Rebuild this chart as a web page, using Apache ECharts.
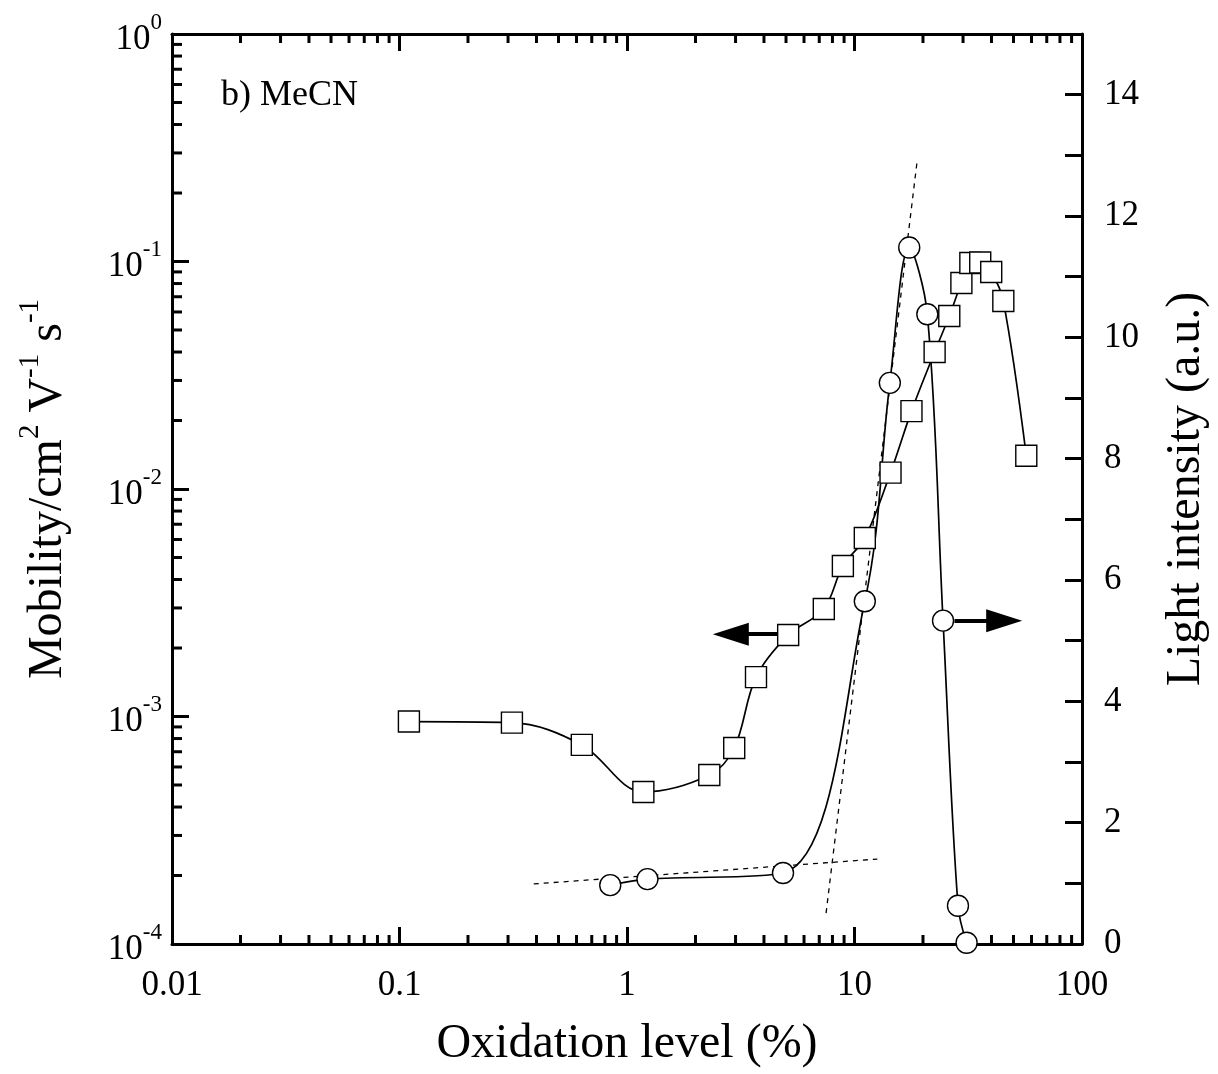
<!DOCTYPE html>
<html><head><meta charset="utf-8">
<script src="https://cdn.jsdelivr.net/npm/echarts@6/dist/echarts.min.js"></script>
<style>html,body{margin:0;padding:0;background:#fff}#c{width:1218px;height:1074px}</style>
</head><body><div id="c"></div>
<script>
// ---- data ----
const xMob = [0.110, 0.312, 0.633, 1.18, 2.30, 2.96, 3.69, 5.11, 7.33, 8.89, 11.1, 14.4, 17.8, 22.5, 26.1, 29.5, 32.3, 35.7, 39.9, 45.1, 56.9];
const yMob = [9.5e-4, 9.4e-4, 7.5e-4, 4.66e-4, 5.53e-4, 7.27e-4, 1.49e-3, 2.28e-3, 2.97e-3, 4.59e-3, 6.09e-3, 1.18e-2, 2.2e-2, 4.0e-2, 5.76e-2, 8.04e-2, 9.85e-2, 9.9e-2, 8.99e-2, 6.7e-2, 1.40e-2];
const xLight = [0.844, 1.23, 4.85, 11.1, 14.3, 17.4, 20.9, 24.5, 28.5, 31.1];
const yLight = [0.97, 1.07, 1.17, 5.65, 9.25, 11.48, 10.38, 5.33, 0.63, 0.02];
const fitLowX = [0.389, 12.6];
const fitLowY = [0.99, 1.40];
const fitSteepX = [7.50, 18.8];
const fitSteepY = [0.51, 12.87];
const arrowLeftX = [4.61, 2.86];
const arrowLeftY = 2.3e-3;
const arrowRightX = [27.5, 45.5];
const arrowRightY = 5.33;
const xTickLabels = ['0.01', '0.1', '1', '10', '100'];
const yTickExps = ['-4', '-3', '-2', '-1', '0'];
const xDecades = [0.01, 0.1, 1, 10];
const yDecades = [1e-4, 1e-3, 1e-2, 1e-1];
const minorMult = [2, 3, 4, 5, 6, 7, 8, 9];

const FONT = '"Liberation Serif","Times New Roman",serif';
const BLACK = '#000';

const minorX = [];
xDecades.forEach(d => minorMult.forEach(m => minorX.push(d * m)));
const minorY = [];
yDecades.forEach(d => minorMult.forEach(m => minorY.push(d * m)));
const tickData = minorX.map(v => [v, 1e-4, 0]).concat(minorY.map(v => [0.01, v, 1]));

const zip = (a, b) => a.map((v, i) => [v, b[i]]);

const axisLineStyle = { show: true, lineStyle: { color: BLACK, width: 3 } };
const majorTick = { show: true, inside: true, length: 17, lineStyle: { color: BLACK, width: 3 } };

const chart = echarts.init(document.getElementById('c'), null, { renderer: 'canvas' });
const option = {
  animation: false,
  backgroundColor: '#fff',
  title: {
    text: 'b) MeCN', left: 221, top: 78, padding: 0,
    textStyle: { fontFamily: FONT, fontSize: 36, fontWeight: 'normal', color: BLACK }
  },
  grid: { left: 172, right: 133, top: 34, bottom: 130, containLabel: false },
  xAxis: [
    {
      type: 'log', logBase: 10, min: 0.01, max: 100, position: 'bottom', splitNumber: 4,
      axisLine: axisLineStyle, axisTick: majorTick, splitLine: { show: false },
      axisLabel: {
        margin: 24, fontSize: 35, fontFamily: FONT, color: BLACK,
        formatter: v => xTickLabels[Math.round(Math.log10(v)) + 2]
      },
      name: 'Oxidation level (%)', nameLocation: 'middle', nameGap: 76,
      nameTextStyle: { fontSize: 48, fontFamily: FONT, color: BLACK }
    },
    {
      type: 'log', logBase: 10, min: 0.01, max: 100, position: 'top', splitNumber: 4,
      axisLine: axisLineStyle, axisTick: majorTick, splitLine: { show: false },
      axisLabel: { show: false }
    }
  ],
  yAxis: [
    {
      type: 'log', logBase: 10, min: 1e-4, max: 1, position: 'left', splitNumber: 4,
      axisLine: axisLineStyle, axisTick: majorTick, splitLine: { show: false },
      axisLabel: {
        margin: 10, color: BLACK,
        formatter: v => '{b|10}{s|' + yTickExps[Math.round(Math.log10(v)) + 4] + '}',
        rich: {
          b: { fontSize: 35, fontFamily: FONT, color: BLACK, lineHeight: 46, verticalAlign: 'bottom' },
          s: { fontSize: 23, fontFamily: FONT, color: BLACK, lineHeight: 22, verticalAlign: 'top' }
        }
      },
      name: '{t|Mobility/cm}{s|2}{t| V}{s|-1}{t| s}{s|-1}',
      nameLocation: 'middle', nameRotate: 90, nameGap: 100,
      nameTextStyle: {
        padding: [0, 0, 0, 0],
        rich: {
          t: { fontSize: 48, fontFamily: FONT, color: BLACK, lineHeight: 56, verticalAlign: 'bottom' },
          s: { fontSize: 29, fontFamily: FONT, color: BLACK, lineHeight: 28, verticalAlign: 'top' }
        }
      }
    },
    {
      type: 'value', min: 0, max: 15, interval: 1, position: 'right',
      axisLine: axisLineStyle, axisTick: majorTick, splitLine: { show: false },
      axisLabel: {
        margin: 22, fontSize: 35, fontFamily: FONT, color: BLACK,
        formatter: v => (v % 2 === 0 && v <= 14) ? String(v) : ''
      },
      name: 'Light intensity (a.u.)', nameLocation: 'middle', nameRotate: 90, nameGap: 80,
      nameTextStyle: { fontSize: 48, fontFamily: FONT, color: BLACK }
    }
  ],
  series: [
    {
      type: 'custom', name: 'minorTicks', xAxisIndex: 0, yAxisIndex: 0, silent: true, clip: false,
      data: tickData,
      renderItem: (params, api) => {
        const kind = api.value(2);
        if (kind === 0) {
          const pB = api.coord([api.value(0), 1e-4]);
          const pT = api.coord([api.value(0), 1]);
          return {
            type: 'group', children: [
              { type: 'line', shape: { x1: pB[0], y1: pB[1], x2: pB[0], y2: pB[1] - 9 }, style: { stroke: BLACK, lineWidth: 3 } },
              { type: 'line', shape: { x1: pT[0], y1: pT[1], x2: pT[0], y2: pT[1] + 9 }, style: { stroke: BLACK, lineWidth: 3 } }
            ]
          };
        }
        const p = api.coord([0.01, api.value(1)]);
        return { type: 'line', shape: { x1: p[0], y1: p[1], x2: p[0] + 10, y2: p[1] }, style: { stroke: BLACK, lineWidth: 3 } };
      }
    },
    {
      type: 'line', name: 'fitLow', xAxisIndex: 0, yAxisIndex: 1, showSymbol: false, symbol: 'none',
      data: zip(fitLowX, fitLowY), lineStyle: { color: BLACK, width: 1.3, type: [5, 5] }, silent: true
    },
    {
      type: 'line', name: 'fitSteep', xAxisIndex: 0, yAxisIndex: 1, showSymbol: false, symbol: 'none',
      data: zip(fitSteepX, fitSteepY), lineStyle: { color: BLACK, width: 1.3, type: [5, 5] }, silent: true
    },
    {
      type: 'line', name: 'Mobility', xAxisIndex: 0, yAxisIndex: 0, smooth: 0.35,
      data: zip(xMob, yMob), symbol: 'rect', symbolSize: 21,
      itemStyle: { color: '#fff', borderColor: BLACK, borderWidth: 1.4 },
      lineStyle: { color: BLACK, width: 1.7 },
      markLine: {
        silent: true, animation: false, symbol: ['none', 'triangle'], symbolSize: [23, 36],
        lineStyle: { color: BLACK, width: 4, type: 'solid' }, itemStyle: { color: BLACK },
        label: { show: false }, emphasis: { disabled: true },
        data: [[{ coord: [arrowLeftX[0], arrowLeftY] }, { coord: [arrowLeftX[1], arrowLeftY] }]]
      }
    },
    {
      type: 'line', name: 'Light', xAxisIndex: 0, yAxisIndex: 1, smooth: 0.35,
      data: zip(xLight, yLight), symbol: 'circle', symbolSize: 21,
      itemStyle: { color: '#fff', borderColor: BLACK, borderWidth: 1.4 },
      lineStyle: { color: BLACK, width: 1.7 },
      markLine: {
        silent: true, animation: false, symbol: ['none', 'triangle'], symbolSize: [23, 36],
        lineStyle: { color: BLACK, width: 4, type: 'solid' }, itemStyle: { color: BLACK },
        label: { show: false }, emphasis: { disabled: true },
        data: [[{ coord: [arrowRightX[0], arrowRightY] }, { coord: [arrowRightX[1], arrowRightY] }]]
      }
    }
  ]
};
chart.setOption(option);
</script></body></html>
